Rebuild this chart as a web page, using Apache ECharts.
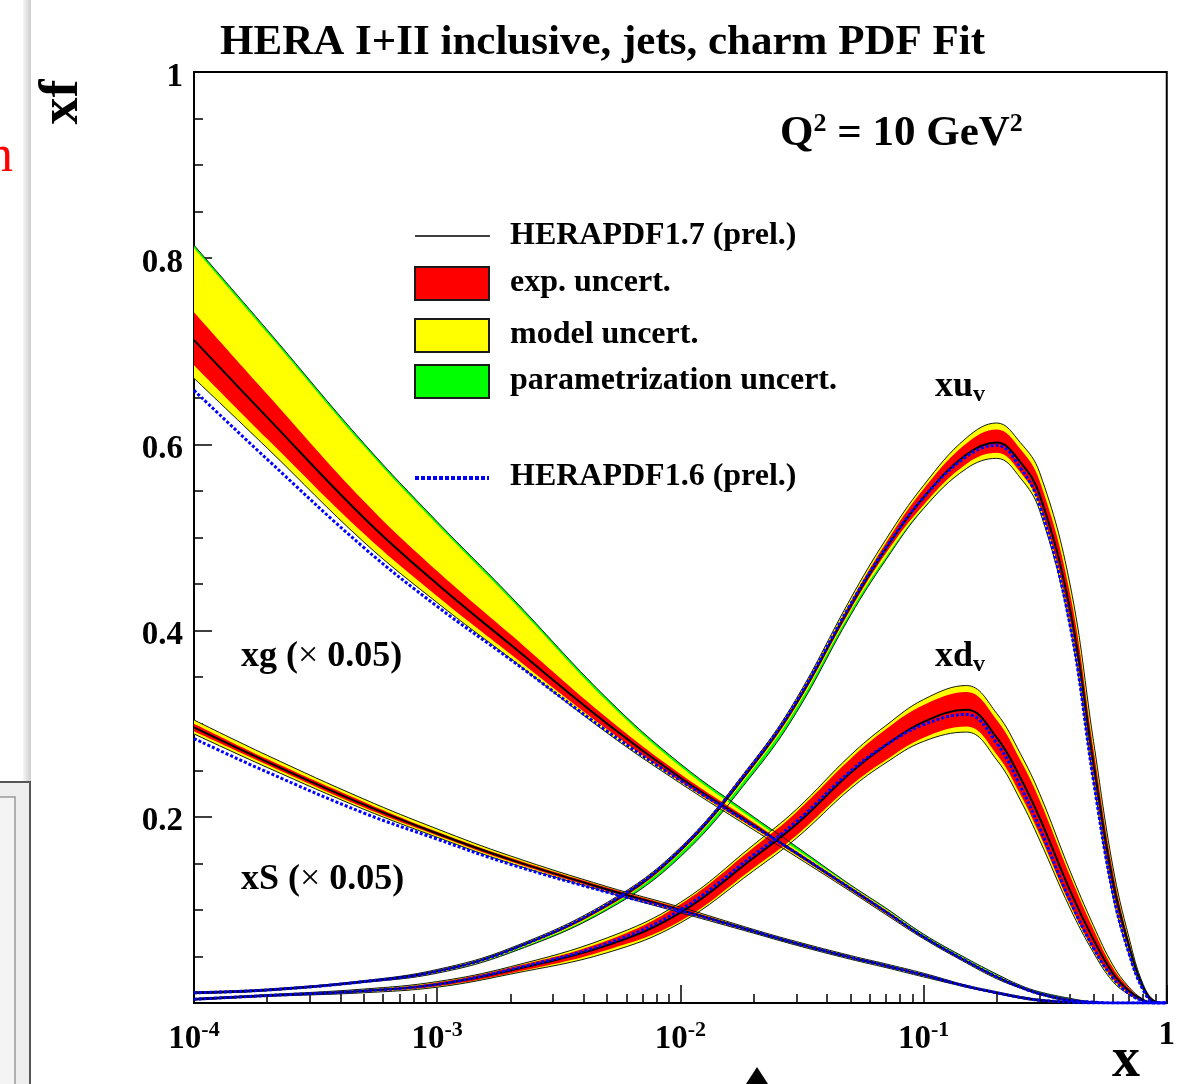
<!DOCTYPE html>
<html>
<head>
<meta charset="utf-8">
<title>HERA I+II PDF fit</title>
<script src="https://cdn.jsdelivr.net/npm/echarts@6/dist/echarts.min.js"></script>
<style>
  html, body { margin: 0; padding: 0; background: #fff; }
  #chart { width: 1178px; height: 1084px; }
</style>
</head>
<body>
<div id="chart"></div>
<script>
// x grid (real x, drawn on a log10 axis)
const xValues = [1e-4, 2e-4, 5e-4, 1e-3, 2e-3, 5e-3, 1e-2, 2e-2, 3e-2, 5e-2, 7e-2, 0.1, 0.15, 0.2, 0.25, 0.3, 0.4, 0.5, 0.6, 0.7, 0.8, 0.9, 1];

// xu_v
const uvCentral  = [0.011, 0.014, 0.023, 0.034, 0.057, 0.105, 0.164, 0.256, 0.322, 0.426, 0.488, 0.543, 0.589, 0.602, 0.581, 0.546, 0.423, 0.257, 0.131, 0.061, 0.017, 0.001, 0];
const uvRedHi    = [0.012, 0.015, 0.024, 0.035, 0.058, 0.107, 0.166, 0.259, 0.325, 0.430, 0.494, 0.552, 0.601, 0.616, 0.595, 0.561, 0.440, 0.272, 0.142, 0.066, 0.019, 0.002, 0];
const uvRedLo    = [0.010, 0.013, 0.022, 0.033, 0.056, 0.103, 0.162, 0.254, 0.319, 0.422, 0.483, 0.535, 0.579, 0.591, 0.570, 0.535, 0.411, 0.245, 0.121, 0.056, 0.015, 0.000, 0];
const uvYellowHi = [0.012, 0.015, 0.024, 0.036, 0.059, 0.108, 0.167, 0.260, 0.327, 0.434, 0.498, 0.556, 0.607, 0.623, 0.602, 0.570, 0.450, 0.281, 0.147, 0.070, 0.020, 0.002, 0];
const uvYellowLo = [0.010, 0.013, 0.022, 0.032, 0.055, 0.102, 0.161, 0.252, 0.317, 0.420, 0.479, 0.532, 0.574, 0.585, 0.564, 0.529, 0.404, 0.238, 0.116, 0.052, 0.014, 0.000, 0];
const uvGreenHi  = [0.012, 0.015, 0.024, 0.036, 0.059, 0.108, 0.167, 0.260, 0.327, 0.434, 0.498, 0.556, 0.607, 0.623, 0.602, 0.570, 0.450, 0.281, 0.147, 0.070, 0.020, 0.002, 0];
const uvGreenLo  = [0.010, 0.013, 0.022, 0.032, 0.054, 0.100, 0.157, 0.247, 0.312, 0.416, 0.476, 0.531, 0.574, 0.585, 0.564, 0.529, 0.404, 0.238, 0.116, 0.052, 0.014, 0.000, 0];
const uvPrev     = [0.011, 0.014, 0.023, 0.034, 0.057, 0.106, 0.165, 0.258, 0.324, 0.428, 0.489, 0.543, 0.587, 0.599, 0.575, 0.535, 0.406, 0.238, 0.118, 0.053, 0.014, 0.000, 0];

// xd_v
const dvCentral  = [0.004, 0.008, 0.013, 0.020, 0.035, 0.062, 0.097, 0.156, 0.192, 0.247, 0.277, 0.302, 0.315, 0.285, 0.242, 0.199, 0.121, 0.068, 0.032, 0.013, 0.003, 0, 0];
const dvRedHi    = [0.005, 0.009, 0.014, 0.022, 0.038, 0.067, 0.106, 0.167, 0.205, 0.262, 0.294, 0.320, 0.334, 0.304, 0.261, 0.218, 0.137, 0.079, 0.038, 0.016, 0.004, 0, 0];
const dvRedLo    = [0.003, 0.007, 0.012, 0.018, 0.032, 0.057, 0.088, 0.145, 0.180, 0.233, 0.261, 0.285, 0.297, 0.267, 0.224, 0.181, 0.106, 0.057, 0.026, 0.010, 0.002, 0, 0];
const dvYellowHi = [0.005, 0.009, 0.015, 0.023, 0.039, 0.070, 0.108, 0.170, 0.208, 0.266, 0.298, 0.326, 0.341, 0.311, 0.268, 0.225, 0.142, 0.083, 0.041, 0.017, 0.004, 0, 0];
const dvYellowLo = [0.003, 0.007, 0.011, 0.017, 0.031, 0.054, 0.086, 0.142, 0.177, 0.230, 0.258, 0.281, 0.291, 0.261, 0.218, 0.175, 0.102, 0.054, 0.023, 0.009, 0.002, 0, 0];
const dvPrev     = [0.004, 0.008, 0.013, 0.020, 0.036, 0.064, 0.100, 0.159, 0.195, 0.249, 0.277, 0.299, 0.310, 0.279, 0.233, 0.188, 0.110, 0.059, 0.027, 0.010, 0.002, 0, 0];

// xg (x 0.05)
const gCentral  = [0.712, 0.629, 0.521, 0.450, 0.385, 0.300, 0.242, 0.191, 0.161, 0.123, 0.098, 0.071, 0.045, 0.028, 0.017, 0.010, 0.003, 0.001, 0, 0, 0, 0, 0];
const gRedHi    = [0.742, 0.654, 0.539, 0.464, 0.396, 0.306, 0.246, 0.194, 0.163, 0.125, 0.100, 0.072, 0.046, 0.029, 0.018, 0.011, 0.004, 0.001, 0, 0, 0, 0, 0];
const gRedLo    = [0.685, 0.606, 0.504, 0.437, 0.375, 0.294, 0.238, 0.188, 0.159, 0.121, 0.096, 0.070, 0.044, 0.027, 0.016, 0.009, 0.002, 0.001, 0, 0, 0, 0, 0];
const gYellowHi = [0.811, 0.720, 0.598, 0.514, 0.434, 0.324, 0.254, 0.197, 0.165, 0.126, 0.101, 0.073, 0.047, 0.030, 0.018, 0.011, 0.004, 0.001, 0, 0, 0, 0, 0];
const gYellowLo = [0.671, 0.596, 0.495, 0.430, 0.370, 0.290, 0.236, 0.186, 0.157, 0.120, 0.095, 0.069, 0.043, 0.026, 0.016, 0.009, 0.002, 0.001, 0, 0, 0, 0, 0];
const gGreenHi  = [0.814, 0.723, 0.601, 0.517, 0.437, 0.327, 0.257, 0.200, 0.168, 0.127, 0.102, 0.074, 0.048, 0.031, 0.019, 0.012, 0.005, 0.001, 0, 0, 0, 0, 0];
const gGreenLo  = [0.671, 0.596, 0.495, 0.430, 0.370, 0.290, 0.236, 0.186, 0.157, 0.120, 0.095, 0.069, 0.043, 0.026, 0.016, 0.009, 0.002, 0.001, 0, 0, 0, 0, 0];
const gPrev     = [0.658, 0.584, 0.489, 0.426, 0.369, 0.292, 0.239, 0.190, 0.161, 0.123, 0.098, 0.071, 0.045, 0.028, 0.017, 0.010, 0.003, 0.001, 0, 0, 0, 0, 0];

// xS (x 0.05)
const sCentral  = [0.296, 0.259, 0.213, 0.182, 0.154, 0.122, 0.100, 0.077, 0.064, 0.049, 0.040, 0.030, 0.018, 0.011, 0.006, 0.003, 0.001, 0, 0, 0, 0, 0, 0];
const sRedHi    = [0.300, 0.262, 0.216, 0.184, 0.156, 0.124, 0.102, 0.078, 0.065, 0.050, 0.041, 0.031, 0.019, 0.012, 0.007, 0.003, 0.001, 0, 0, 0, 0, 0, 0];
const sRedLo    = [0.292, 0.256, 0.210, 0.180, 0.152, 0.120, 0.098, 0.076, 0.063, 0.048, 0.039, 0.029, 0.017, 0.010, 0.005, 0.002, 0, 0, 0, 0, 0, 0, 0];
const sYellowHi = [0.304, 0.266, 0.219, 0.187, 0.158, 0.125, 0.103, 0.079, 0.066, 0.051, 0.042, 0.032, 0.019, 0.012, 0.007, 0.004, 0.001, 0, 0, 0, 0, 0, 0];
const sYellowLo = [0.289, 0.253, 0.208, 0.178, 0.150, 0.119, 0.097, 0.075, 0.062, 0.047, 0.038, 0.028, 0.017, 0.010, 0.005, 0.002, 0, 0, 0, 0, 0, 0, 0];
const sPrev     = [0.284, 0.248, 0.204, 0.176, 0.149, 0.119, 0.099, 0.077, 0.064, 0.049, 0.040, 0.030, 0.018, 0.011, 0.006, 0.003, 0.001, 0, 0, 0, 0, 0, 0];

// axis ticks
const xMajorExp = [-4, -3, -2, -1, 0];
const xMinorMult = [2, 3, 4, 5, 6, 7, 8, 9];
const yLabels = [0.2, 0.4, 0.6, 0.8, 1];

const FONT = '"Liberation Serif", "DejaVu Serif", serif';
const SMOOTH = 0.4;

const logX = xValues.map(x => Math.log10(x));
// y first, so the stack runs along y (x is a value axis too)
const toPts = ys => logX.map((lx, i) => [ys[i], lx]);
const diffPts = (lo, hi) => logX.map((lx, i) => [+(hi[i] - lo[i]).toFixed(4), lx]);
const ENC = { x: 1, y: 0 };

const xMinorTicks = [];
xMajorExp.slice(0, -1).forEach(e => {
  xMinorMult.forEach(m => xMinorTicks.push(Math.log10(m) + e));
});

// band = lower edge + stacked difference filled
function band(id, lo, hi, color, edge) {
  const edgeStyle = edge
    ? { color: "#1a1a1a", width: 1 }
    : { width: 0, opacity: 0 };
  return [
    { type: "line", stack: id, stackStrategy: "all", data: toPts(lo), encode: ENC,
      smooth: SMOOTH, symbol: "none", silent: true, lineStyle: edgeStyle },
    { type: "line", stack: id, stackStrategy: "all", data: diffPts(lo, hi), encode: ENC,
      smooth: SMOOTH, symbol: "none", silent: true, lineStyle: edgeStyle,
      areaStyle: { color: color, opacity: 1 } }
  ];
}
function curve(ys, color, width, type) {
  return { type: "line", data: toPts(ys), encode: ENC, smooth: SMOOTH, symbol: "none", silent: true,
           lineStyle: { color: color, width: width, type: type || "solid" } };
}

const pdfs = [
  { id: "g",  c: gCentral,  rl: gRedLo,  rh: gRedHi,  yl: gYellowLo,  yh: gYellowHi,  gl: gGreenLo,  gh: gGreenHi,  p: gPrev },
  { id: "s",  c: sCentral,  rl: sRedLo,  rh: sRedHi,  yl: sYellowLo,  yh: sYellowHi,  gl: sYellowLo, gh: sYellowHi, p: sPrev },
  { id: "uv", c: uvCentral, rl: uvRedLo, rh: uvRedHi, yl: uvYellowLo, yh: uvYellowHi, gl: uvGreenLo, gh: uvGreenHi, p: uvPrev },
  { id: "dv", c: dvCentral, rl: dvRedLo, rh: dvRedHi, yl: dvYellowLo, yh: dvYellowHi, gl: dvYellowLo, gh: dvYellowHi, p: dvPrev }
];

const series = [];
pdfs.forEach(p => series.push(...band(p.id + "G", p.gl, p.gh, "#00ff00", true)));
pdfs.forEach(p => series.push(...band(p.id + "Y", p.yl, p.yh, "#ffff00", false)));
pdfs.forEach(p => series.push(...band(p.id + "R", p.rl, p.rh, "#ff0000", false)));
pdfs.forEach(p => series.push(curve(p.c, "#000000", 2)));
pdfs.forEach(p => series.push(curve(p.p, "#0000ff", 3, [3, 2])));

const axisLine = { show: true, onZero: false, lineStyle: { color: "#000", width: 2 } };
const tickLine = { color: "#000", width: 1.5 };
const boldText = size => `bold ${size}px ${FONT}`;

const legendRows = [
  { y: 236, text: "HERAPDF1.7 (prel.)" },
  { y: 283, text: "exp. uncert.", fill: "#ff0000" },
  { y: 335, text: "model uncert.", fill: "#ffff00" },
  { y: 381, text: "parametrization uncert.", fill: "#00ff00" },
  { y: 477, text: "HERAPDF1.6 (prel.)" }
];

const richLabel = () => ({
  a: { fontFamily: FONT, fontWeight: "bold", fontSize: 36, color: "#000" },
  m: { fontFamily: FONT, fontSize: 36, color: "#000" },
  b: { fontFamily: FONT, fontWeight: "bold", fontSize: 24, color: "#000", padding: [16, 0, 0, 0] }
});

const graphics = [
  // screenshot leftovers at the left edge
  { type: "rect", shape: { x: 23, y: 0, width: 8, height: 782 },
    style: { fill: { type: "linear", x: 0, y: 0, x2: 1, y2: 0,
      colorStops: [{ offset: 0, color: "#f6f6f6" }, { offset: 1, color: "#cdcdcd" }] } } },
  { type: "rect", shape: { x: -2, y: 782, width: 32, height: 310 },
    style: { fill: "#eeeeee", stroke: "#555", lineWidth: 2 } },
  { type: "rect", shape: { x: -2, y: 797, width: 17, height: 300 },
    style: { fill: "#f4f4f4", stroke: "#999", lineWidth: 1.5 } },
  { type: "text", x: -13, y: 157,
    style: { text: "n", font: `normal 52px ${FONT}`, fill: "#ff0000", verticalAlign: "middle" } },
  { type: "polygon", shape: { points: [[757, 1067], [746, 1084], [768, 1084]] }, style: { fill: "#000" } },

  // axis titles
  { type: "text", x: 63, y: 102, rotation: Math.PI / 2,
    style: { text: "xf", font: boldText(54), fill: "#000", align: "center", verticalAlign: "middle" } },
  { type: "text", x: 1126, y: 1062,
    style: { text: "x", font: boldText(56), fill: "#000", align: "center", verticalAlign: "middle" } },

  // Q2
  { type: "text", x: 780, y: 134,
    style: { text: "{a|Q}{b|2}{a| = 10 GeV}{b|2}", verticalAlign: "middle",
      rich: {
        a: { fontFamily: FONT, fontWeight: "bold", fontSize: 43, color: "#000" },
        b: { fontFamily: FONT, fontWeight: "bold", fontSize: 26, color: "#000", padding: [0, 0, 20, 0] }
      } } },

  // curve labels
  { type: "text", x: 935, y: 387,
    style: { text: "{a|xu}{b|v}", verticalAlign: "middle", rich: richLabel() } },
  { type: "text", x: 935, y: 657,
    style: { text: "{a|xd}{b|v}", verticalAlign: "middle", rich: richLabel() } },
  { type: "text", x: 241, y: 657,
    style: { text: "{a|xg (}{m|× }{a|0.05)}", verticalAlign: "middle", rich: richLabel() } },
  { type: "text", x: 241, y: 880,
    style: { text: "{a|xS (}{m|× }{a|0.05)}", verticalAlign: "middle", rich: richLabel() } },

  // legend
  { type: "line", shape: { x1: 415, y1: 236, x2: 490, y2: 236 }, style: { stroke: "#000", lineWidth: 1.5 } },
  { type: "line", shape: { x1: 415, y1: 478, x2: 489, y2: 478 },
    style: { stroke: "#0000ff", lineWidth: 4, lineDash: [4, 2] } }
];
legendRows.forEach(r => {
  if (r.fill) {
    graphics.push({ type: "rect", shape: { x: 415, y: r.y - 16, width: 74, height: 33 },
      style: { fill: r.fill, stroke: "#1a1a1a", lineWidth: 2 } });
  }
  graphics.push({ type: "text", x: 510, y: r.y,
    style: { text: r.text, font: boldText(32), fill: "#000", verticalAlign: "middle" } });
});

const chart = echarts.init(document.getElementById("chart"), null, { renderer: "canvas" });
chart.setOption({
  animation: false,
  backgroundColor: "#fff",
  title: {
    text: "HERA I+II inclusive, jets, charm PDF Fit",
    left: 215, top: 16,
    textStyle: { fontFamily: FONT, fontWeight: "bold", fontSize: 43, color: "#000" }
  },
  grid: { left: 194, top: 72, width: 975, height: 931, show: true,
          borderColor: "#000", borderWidth: 2, backgroundColor: "transparent" },
  xAxis: [
    { type: "value", min: -4, max: 0, interval: 1, position: "bottom",
      axisLine: axisLine,
      axisTick: { show: true, inside: true, length: 18, lineStyle: tickLine },
      splitLine: { show: false },
      axisLabel: {
        margin: 16,
        formatter: v => (v === 0 ? "{b|1}" : "{b|10}{s|" + v + "}"),
        rich: {
          b: { fontFamily: FONT, fontWeight: "bold", fontSize: 33, color: "#000" },
          s: { fontFamily: FONT, fontWeight: "bold", fontSize: 22, color: "#000", padding: [0, 0, 18, 0] }
        }
      } },
    { type: "value", min: -4, max: 0, position: "bottom",
      axisLine: { show: false, onZero: false }, axisLabel: { show: false }, splitLine: { show: false },
      axisTick: { show: true, inside: true, length: 9, lineStyle: tickLine, customValues: xMinorTicks } }
  ],
  yAxis: [
    { type: "value", min: 0, max: 1, interval: 0.2, position: "left",
      axisLine: axisLine,
      axisTick: { show: true, inside: true, length: 18, lineStyle: tickLine },
      minorTick: { show: true, splitNumber: 4, length: 9, lineStyle: tickLine },
      splitLine: { show: false }, minorSplitLine: { show: false },
      axisLabel: {
        margin: 11,
        formatter: v => {
          const hit = yLabels.find(l => Math.abs(l - v) < 1e-9);
          if (hit === undefined) return "";
          return "{v|" + (hit === 1 ? "1" : hit.toFixed(1)) + "}";
        },
        rich: {
          v: { fontFamily: FONT, fontWeight: "bold", fontSize: 33, color: "#000", padding: [10, 0, 0, 0] }
        }
      } }
  ],
  series: series,
  graphic: graphics
});
</script>
</body>
</html>
